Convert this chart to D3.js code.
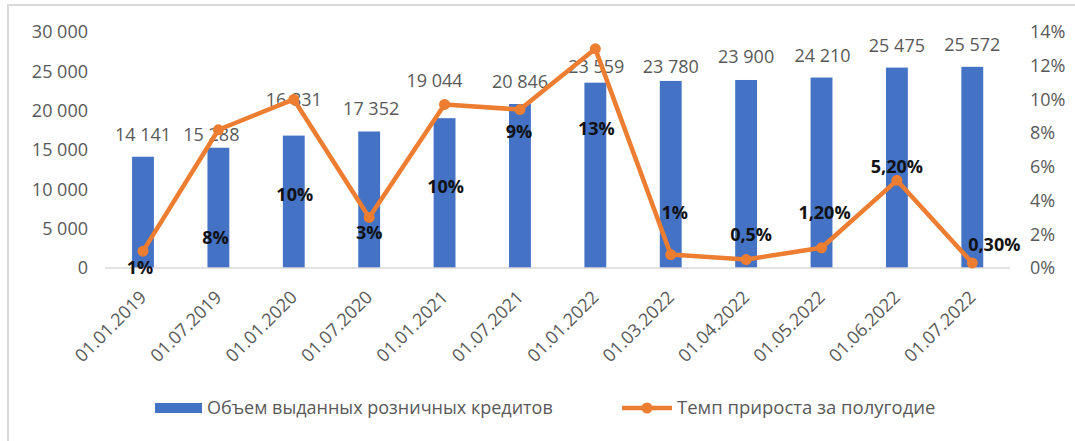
<!DOCTYPE html>
<html><head><meta charset="utf-8">
<script src="https://cdn.jsdelivr.net/npm/d3@7"></script>
<style>
html,body{margin:0;padding:0;background:#fff;}
svg{display:block;font-family:"Open Sans",sans-serif;}
</style></head>
<body>
<svg id="chart" width="1075" height="441"></svg>
<script>
// ---- data ----
const categories = ["01.01.2019","01.07.2019","01.01.2020","01.07.2020","01.01.2021","01.07.2021","01.01.2022","01.03.2022","01.04.2022","01.05.2022","01.06.2022","01.07.2022"];
const volumes = [14141,15288,16831,17352,19044,20846,23559,23780,23900,24210,25475,25572];
const growth = [1,8.2,10,3,9.7,9.4,13,0.8,0.5,1.2,5.2,0.3];
const growthLabels = ["1%","8%","10%","3%","10%","9%","13%","1%","0,5%","1,20%","5,20%","0,30%"];
const leftTicks = [0,5000,10000,15000,20000,25000,30000];
const rightTicks = [0,2,4,6,8,10,12,14];
const seriesNames = ["Объем выданных розничных кредитов","Темп прироста за полугодие"];

// ---- layout (manual label placement, px) ----
const volLabelLift = [22,13,36,23,37,22,16,14,23,22,22,22];
const volLabelDx = [0,-7,0,2,-10,0,1,0,0,1,0,0];
const pctLabelOffset = [[-3,17],[-3,108],[1,95],[0,15],[1,82],[-1,22],[1,80],[4,-42],[5,-25],[3,-35],[0,-14],[22,-18]];

const svg = d3.select("#chart");
const fmtSp = v => d3.format(",")(v).replace(/,/g, " ");

// frame
svg.append("rect").attr("x",8).attr("y",5).attr("width",1075).attr("height",445)
  .attr("fill","#fff").attr("stroke","#d9d9d9").attr("stroke-width",2);

const x = d3.scaleBand().domain(categories).range([105.3,1010]).paddingInner(0.71).paddingOuter(0.355);
const y = d3.scaleLinear().domain([0,30000]).range([268,32]);
const y2 = d3.scaleLinear().domain([0,14]).range([268,32]);

// left axis
const gl = svg.append("g").attr("transform","translate(88,0)")
  .call(d3.axisLeft(y).tickValues(leftTicks).tickSize(0).tickPadding(0).tickFormat(fmtSp));
gl.select(".domain").remove();
gl.selectAll("text").attr("fill","#595959").attr("font-size",18).style("font-family","Open Sans");

// right axis
const gr = svg.append("g").attr("transform","translate(1030,0)")
  .call(d3.axisRight(y2).tickValues(rightTicks).tickSize(0).tickPadding(0).tickFormat(d => d + "%"));
gr.select(".domain").remove();
gr.selectAll("text").attr("fill","#595959").attr("font-size",18).style("font-family","Open Sans");

// bars
svg.append("g").selectAll("rect").data(volumes).join("rect")
  .attr("x",(d,i)=>x(categories[i]))
  .attr("width",x.bandwidth())
  .attr("y",d=>y(d))
  .attr("height",d=>y(0)-y(d))
  .attr("fill","#4472C4");

// baseline
svg.append("line").attr("x1",105).attr("x2",1010).attr("y1",y(0)).attr("y2",y(0))
  .attr("stroke","#d9d9d9").attr("stroke-width",1.5);

// x axis labels
const gx = svg.append("g").attr("transform",`translate(0,${y(0)+12})`)
  .call(d3.axisBottom(x).tickSize(0).tickPadding(0));
gx.select(".domain").remove();
gx.selectAll("text")
  .attr("fill","#595959").attr("font-size",18).style("font-family","Open Sans")
  .attr("text-anchor","end").attr("dy","0.35em")
  .attr("transform","translate(0,14) rotate(-45)");

// bar value labels
svg.append("g").selectAll("text").data(volumes).join("text")
  .attr("x",(d,i)=>x(categories[i])+x.bandwidth()/2+volLabelDx[i])
  .attr("y",(d,i)=>y(d)-volLabelLift[i])
  .attr("dy","0.35em").attr("text-anchor","middle")
  .attr("fill","#595959").attr("font-size",18)
  .text(d=>fmtSp(d));

// line
const cx = i => x(categories[i]) + x.bandwidth()/2;
svg.append("path").datum(growth)
  .attr("d", d3.line().x((d,i)=>cx(i)).y(d=>y2(d)))
  .attr("fill","none").attr("stroke","#ED7D31").attr("stroke-width",4.5).attr("stroke-linejoin","round");
svg.append("g").selectAll("circle").data(growth).join("circle")
  .attr("cx",(d,i)=>cx(i)).attr("cy",d=>y2(d)).attr("r",5.5).attr("fill","#ED7D31");

// pct labels
svg.append("g").selectAll("text").data(growth).join("text")
  .attr("x",(d,i)=>cx(i)+pctLabelOffset[i][0])
  .attr("y",(d,i)=>y2(d)+pctLabelOffset[i][1])
  .attr("dy","0.35em").attr("text-anchor","middle")
  .attr("font-weight","bold").attr("font-size",18).attr("fill","#111")
  .text((d,i)=>growthLabels[i]);

// legend
const lg = svg.append("g");
lg.append("rect").attr("x",155).attr("y",403).attr("width",47).attr("height",10).attr("fill","#4472C4");
lg.append("text").attr("x",207).attr("y",408).attr("dy","0.35em").attr("fill","#595959").attr("font-size",18).text(seriesNames[0]);
lg.append("line").attr("x1",622).attr("x2",672).attr("y1",408).attr("y2",408).attr("stroke","#ED7D31").attr("stroke-width",4.5);
lg.append("circle").attr("cx",647).attr("cy",408).attr("r",5.5).attr("fill","#ED7D31");
lg.append("text").attr("x",677).attr("y",408).attr("dy","0.35em").attr("fill","#595959").attr("font-size",18.5).text(seriesNames[1]);
</script>
</body></html>
